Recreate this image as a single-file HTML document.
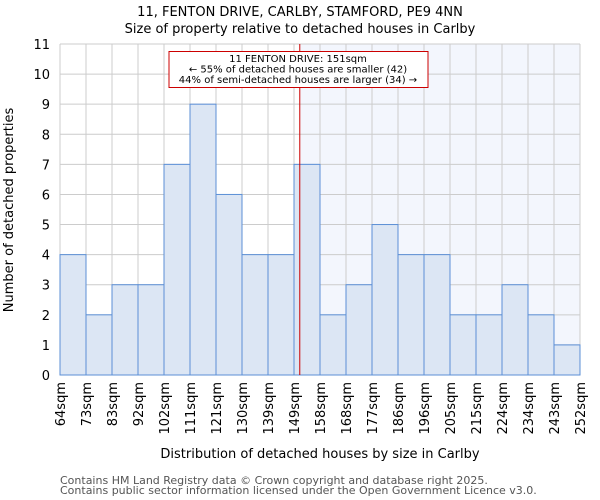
<!DOCTYPE html>
<html><head><meta charset="utf-8"><style>body{margin:0;background:#fff}svg{display:block;font-family:"DejaVu Sans","Liberation Sans",sans-serif}</style></head><body>
<svg width="600" height="500">
<g id="g"></g>
</svg>
<script>
const categories=["64sqm","73sqm","83sqm","92sqm","102sqm","111sqm","121sqm","130sqm","139sqm","149sqm","158sqm","168sqm","177sqm","186sqm","196sqm","205sqm","215sqm","224sqm","234sqm","243sqm","252sqm"];
const values=[4,2,3,3,7,9,6,4,4,7,2,3,5,4,4,2,2,3,2,1];
const yTicks=[0,1,2,3,4,5,6,7,8,9,10,11];
const marker=151;
const x0=60,x1=580,y0=375,y1=44,yMax=11;
const n=values.length,bw=(x1-x0)/n;
const X=i=>x0+i*bw;
const Y=v=>y0-(v/yMax)*(y0-y1);
const markerX=X(9)+(marker-149)/(158-149)*bw;
const g=document.getElementById('g');
const NS="http://www.w3.org/2000/svg";
function el(t,a,txt){const e=document.createElementNS(NS,t);for(const k in a)e.setAttribute(k,a[k]);if(txt!==undefined)e.textContent=txt;g.appendChild(e);return e;}
let e;
e=el('rect',{x:markerX,y:y1,width:x1-markerX,height:y0-y1,fill:'#f3f6fd'});

for(let i=0;i<=n;i++){e=el('line',{x1:X(i),x2:X(i),y1:y1,y2:y0,stroke:'#cccccc','stroke-width':1});}
yTicks.forEach(v=>{e=el('line',{x1:x0,x2:x1,y1:Y(v),y2:Y(v),stroke:'#cccccc','stroke-width':1});
e=el('text',{x:50,y:Y(v)+5,'text-anchor':'end','font-size':13,fill:'#000'},v);});
values.forEach((v,i)=>{e=el('rect',{x:X(i),y:Y(v),width:bw,height:Y(0)-Y(v),fill:'#dce6f4',stroke:'#5b8fd6','stroke-width':1});});
categories.forEach((c,i)=>{e=el('text',{transform:`translate(${X(i)+5},382) rotate(-90)`,'text-anchor':'end','font-size':13,fill:'#000'},c);});
e=el('line',{x1:markerX,x2:markerX,y1:y1,y2:y0,stroke:'#cc0000','stroke-width':1});
e=el('rect',{x:169,y:51.5,width:259,height:36,fill:'#fff',stroke:'#cc0000','stroke-width':1});
["11 FENTON DRIVE: 151sqm","← 55% of detached houses are smaller (42)","44% of semi-detached houses are larger (34) →"].forEach((t,i)=>{e=el('text',{x:298,y:62+i*10.5,'text-anchor':'middle','font-size':10,fill:'#000'},t);});
e=el('text',{x:300,y:16,'text-anchor':'middle','font-size':13,fill:'#000'},"11, FENTON DRIVE, CARLBY, STAMFORD, PE9 4NN");
e=el('text',{x:300,y:33,'text-anchor':'middle','font-size':13,fill:'#000'},"Size of property relative to detached houses in Carlby");
e=el('text',{x:320,y:458,'text-anchor':'middle','font-size':13,fill:'#000'},"Distribution of detached houses by size in Carlby");
e=el('text',{transform:'translate(13,210) rotate(-90)','text-anchor':'middle','font-size':13,fill:'#000'},"Number of detached properties");
e=el('text',{x:60,y:484,'font-size':11,fill:'#555'},"Contains HM Land Registry data © Crown copyright and database right 2025.");
e=el('text',{x:60,y:494,'font-size':11,fill:'#555'},"Contains public sector information licensed under the Open Government Licence v3.0.");
</script>
</body></html>
